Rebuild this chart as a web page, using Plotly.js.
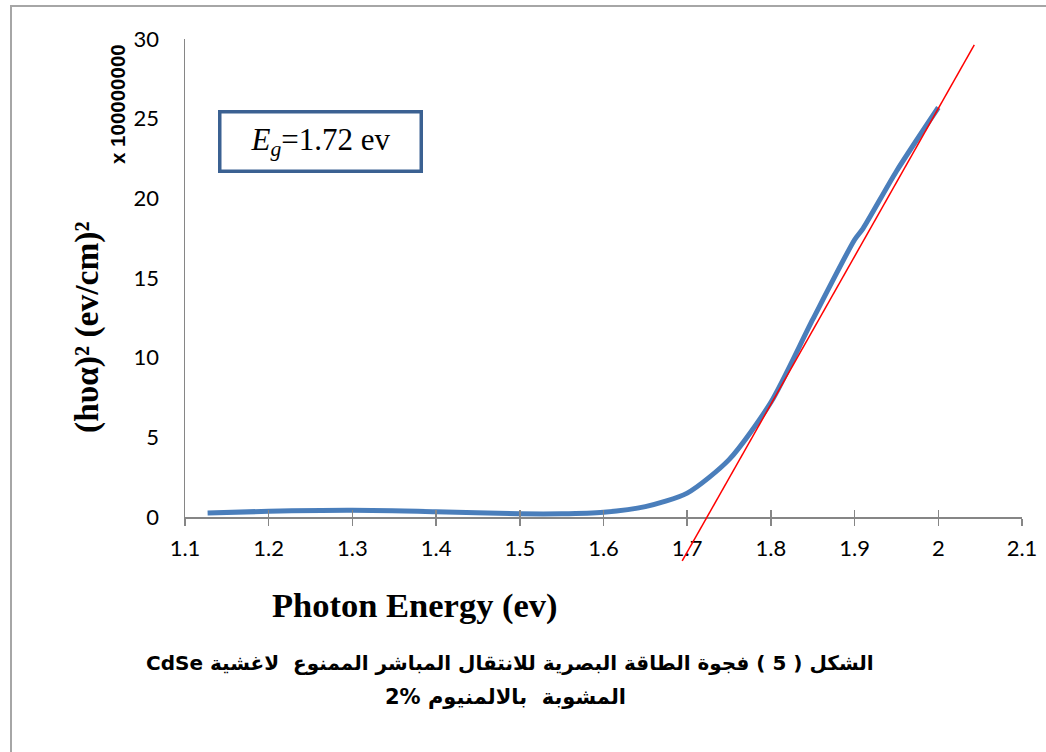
<!DOCTYPE html>
<html>
<head>
<meta charset="utf-8">
<script src="https://cdn.plot.ly/plotly-3.0.1.min.js"></script>
<style>
  html, body { margin: 0; padding: 0; background: #fff; overflow: hidden; }
  #chart { position: absolute; left: 0; top: 0; width: 1046px; height: 752px; }
  #frame { position: absolute; left: 10px; top: 5px; width: 1100px; height: 800px;
           border-left: 2px solid #a6a6a6; border-top: 2px solid #a6a6a6; pointer-events: none; }
</style>
</head>
<body>
<div id="chart"></div>
<div id="frame"></div>
<script>
// Measured curve (hv vs (hv·alpha)^2, ×1e8)
const photonEnergy = [1.127, 1.2, 1.3, 1.4, 1.5, 1.55, 1.6, 1.65, 1.7, 1.75, 1.8, 1.85, 1.9, 1.91, 1.95, 2.0];
const absorption   = [0.25, 0.36, 0.42, 0.33, 0.2, 0.2, 0.3, 0.65, 1.5, 3.6, 7.2, 12.4, 17.4, 18.1, 21.7, 25.7];
// Linear extrapolation (Eg = 1.72 eV)
const fitX = [1.694, 2.043];
const fitY = [-2.76, 29.63];
const xTicks = [1.1, 1.2, 1.3, 1.4, 1.5, 1.6, 1.7, 1.8, 1.9, 2, 2.1];
const xTickLabels = ['1.1', '1.2', '1.3', '1.4', '1.5', '1.6', '1.7', '1.8', '1.9', '2', '2.1'];
const yTicks = [0, 5, 10, 15, 20, 25, 30];

// geometry of plot area
const W = 1046, Hh = 752;
const mL = 185, mR = 24, mT = 39, mB = 177;
const plotH = Hh - mT - mB;          // 536
const axisPix = 517;                  // pixel of y=0
const d0 = (mT + plotH - axisPix) / plotH;
const y2min = -30 * d0 / (1 - d0);
const px = p => (p - mL) / (W - mL - mR);
const py = p => (mT + plotH - p) / plotH;

const tickFont = { family: 'Lato, "Liberation Sans", sans-serif', size: 22, color: '#000' };
const RLE = '\u202B', PDF = '\u202C', LRI = '\u2066', PDI = '\u2069';

const traces = [
  { x: photonEnergy, y: absorption, type: 'scatter', mode: 'lines',
    line: { color: '#4a7ebb', width: 5, shape: 'spline', smoothing: 0.7 },
    xaxis: 'x', yaxis: 'y', hoverinfo: 'skip' },
  { x: fitX, y: fitY, type: 'scatter', mode: 'lines',
    line: { color: '#ff0000', width: 1.5 },
    xaxis: 'x', yaxis: 'y2', hoverinfo: 'skip' },
  { x: [1.1], y: [0], xaxis: 'x2', yaxis: 'y', type: 'scatter', mode: 'none', hoverinfo: 'skip' }
];

const layout = {
  width: W, height: Hh,
  margin: { l: mL, r: mR, t: mT, b: mB },
  paper_bgcolor: 'rgba(0,0,0,0)',
  plot_bgcolor: 'rgba(0,0,0,0)',
  showlegend: false,
  xaxis: {
    range: [1.1, 2.1], tickvals: xTicks, ticktext: xTickLabels,
    showline: true, linecolor: '#868686', linewidth: 1.5,
    ticks: 'outside', ticklen: 7, tickcolor: '#868686', tickwidth: 1.5,
    showgrid: false, zeroline: false, anchor: 'y', tickfont: tickFont, ticklabelstandoff: 4
  },
  xaxis2: {
    range: [1.1, 2.1], tickvals: xTicks, ticktext: xTickLabels, overlaying: 'x', anchor: 'y', side: 'bottom',
    showline: false, ticks: 'inside', ticklen: 7, tickcolor: '#868686', tickwidth: 1.5,
    showticklabels: false, showgrid: false, zeroline: false
  },
  yaxis: {
    domain: [d0, 1], range: [0, 30], tickvals: yTicks,
    showline: true, linecolor: '#868686', linewidth: 1.5,
    ticks: '', showgrid: false, zeroline: false, anchor: 'x',
    tickfont: tickFont, ticklabelstandoff: 20
  },
  yaxis2: {
    domain: [0, 1], range: [y2min, 30], anchor: 'x', visible: false
  },
  annotations: [
    { xref: 'paper', yref: 'paper', x: px(415), y: py(605), xanchor: 'center', yanchor: 'middle',
      text: '<b>Photon Energy (ev)</b>', showarrow: false,
      font: { family: '"Liberation Serif", "Times New Roman", serif', size: 34.5, color: '#000' } },
    { xref: 'paper', yref: 'paper', x: px(87), y: py(327), xanchor: 'center', yanchor: 'middle',
      text: '<b>(hυα)² (ev/cm)²</b>', showarrow: false, textangle: -90,
      font: { family: '"Liberation Serif", "Times New Roman", serif', size: 33.5, color: '#000' } },
    { xref: 'paper', yref: 'paper', x: px(117), y: py(104), xanchor: 'center', yanchor: 'middle',
      text: '<b>x 100000000</b>', showarrow: false, textangle: -90,
      font: { family: '"Liberation Sans", Arial, sans-serif', size: 20.5, color: '#000' } },
    { xref: 'paper', yref: 'paper', x: px(320), y: py(141), xanchor: 'center', yanchor: 'middle',
      text: '<i>E<sub>g</sub></i>=1.72 ev', showarrow: false,
      width: 196, height: 54, borderpad: 1, bordercolor: '#3b6192', borderwidth: 3.5, bgcolor: '#fff',
      font: { family: '"Liberation Serif", "Times New Roman", serif', size: 31, color: '#000' } },
    { xref: 'paper', yref: 'paper', x: px(510), y: py(663), xanchor: 'center', yanchor: 'middle',
      text: '<b>' + RLE + 'الشكل ( 5 ) فجوة الطاقة البصرية للانتقال المباشر الممنوع  لاغشية CdSe' + PDF + '</b>', showarrow: false,
      font: { family: '"DejaVu Sans", "Liberation Sans", Arial, sans-serif', size: 20, color: '#000' } },
    { xref: 'paper', yref: 'paper', x: px(505), y: py(697), xanchor: 'center', yanchor: 'middle',
      text: '<b>' + RLE + 'المشوبة  بالالمنيوم ' + LRI + '2%' + PDI + PDF + '</b>', showarrow: false,
      font: { family: '"DejaVu Sans", "Liberation Sans", Arial, sans-serif', size: 21, color: '#000' } }
  ]
};

Plotly.newPlot('chart', traces, layout, { staticPlot: true, displayModeBar: false });
</script>
</body>
</html>
